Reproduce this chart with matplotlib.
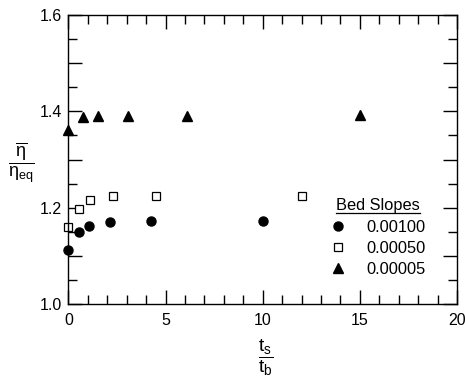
import matplotlib
matplotlib.use('Agg')
import matplotlib.pyplot as plt
from matplotlib.ticker import MultipleLocator, FuncFormatter
from matplotlib.lines import Line2D

plt.rcParams['font.family'] = ['Liberation Sans', 'DejaVu Sans']
plt.rcParams['mathtext.fontset'] = 'custom'
plt.rcParams['mathtext.rm'] = 'Liberation Sans'
plt.rcParams['mathtext.it'] = 'Liberation Sans'
plt.rcParams['mathtext.bf'] = 'Liberation Sans:bold'

# Data
x_s1 = [0, 0.54, 1.08, 2.15, 4.25, 10.0]
y_s1 = [1.112, 1.149, 1.163, 1.171, 1.173, 1.172]

x_s2 = [0, 0.56, 1.12, 2.28, 4.53, 12.0]
y_s2 = [1.160, 1.198, 1.216, 1.224, 1.224, 1.224]

x_s3 = [0, 0.76, 1.5, 3.05, 6.1, 15.0]
y_s3 = [1.362, 1.389, 1.390, 1.391, 1.391, 1.392]

labels = ['0.00100', '0.00050', '0.00005']

fig = plt.figure(figsize=(4.65, 3.83), dpi=100)
ax = fig.add_axes([0.147, 0.205, 0.836, 0.757])

ax.plot(x_s1, y_s1, 'o', color='black', markersize=6.5, label=labels[0], clip_on=False)
ax.plot(x_s2, y_s2, 's', markerfacecolor='white', markeredgecolor='black',
        markeredgewidth=0.9, markersize=6, label=labels[1], clip_on=False)
ax.plot(x_s3, y_s3, '^', color='black', markersize=6.5, label=labels[2], clip_on=False)

ax.set_xlim(0, 20)
ax.set_ylim(1.0, 1.6)

ax.xaxis.set_major_locator(MultipleLocator(5))
ax.xaxis.set_minor_locator(MultipleLocator(1))
ax.yaxis.set_major_locator(MultipleLocator(0.1))
ax.yaxis.set_minor_locator(MultipleLocator(0.05))
ax.yaxis.set_major_formatter(FuncFormatter(
    lambda v, p: '%.1f' % v if round(v * 10) % 2 == 0 else ''))

ax.tick_params(which='both', direction='in', top=True, right=True,
               labelsize=11.5, width=1.0)
ax.tick_params(which='major', length=10)
ax.tick_params(which='minor', length=6.3)
ax.tick_params(axis='x', pad=6)
ax.tick_params(axis='y', pad=4.5)
for s in ax.spines.values():
    s.set_linewidth(1.0)

ax.set_xlabel(r'$\dfrac{t_s}{t_b}$', fontsize=14, va='center', ha='center')
ax.xaxis.set_label_coords(0.508, -0.185)
ax.set_ylabel(r'$\dfrac{\overline{\eta}}{\eta_{eq}}$', fontsize=13, rotation=0,
              va='center', ha='center')
ax.yaxis.set_label_coords(-0.12, 0.49)

leg = ax.legend(loc='upper left', bbox_to_anchor=(0.673, 0.366), frameon=False,
                title='Bed Slopes', fontsize=11.8, title_fontsize=11.8,
                borderpad=0, borderaxespad=0, handlelength=1.0,
                handletextpad=1.25, labelspacing=0.38)

# underline the legend title
fig.canvas.draw()
bb = leg.get_title().get_window_extent().transformed(fig.transFigure.inverted())
fig.add_artist(Line2D([bb.x0, bb.x1], [bb.y0 + 0.002, bb.y0 + 0.002],
                      color='black', linewidth=0.9, transform=fig.transFigure))

plt.savefig('out.png', dpi=100)
